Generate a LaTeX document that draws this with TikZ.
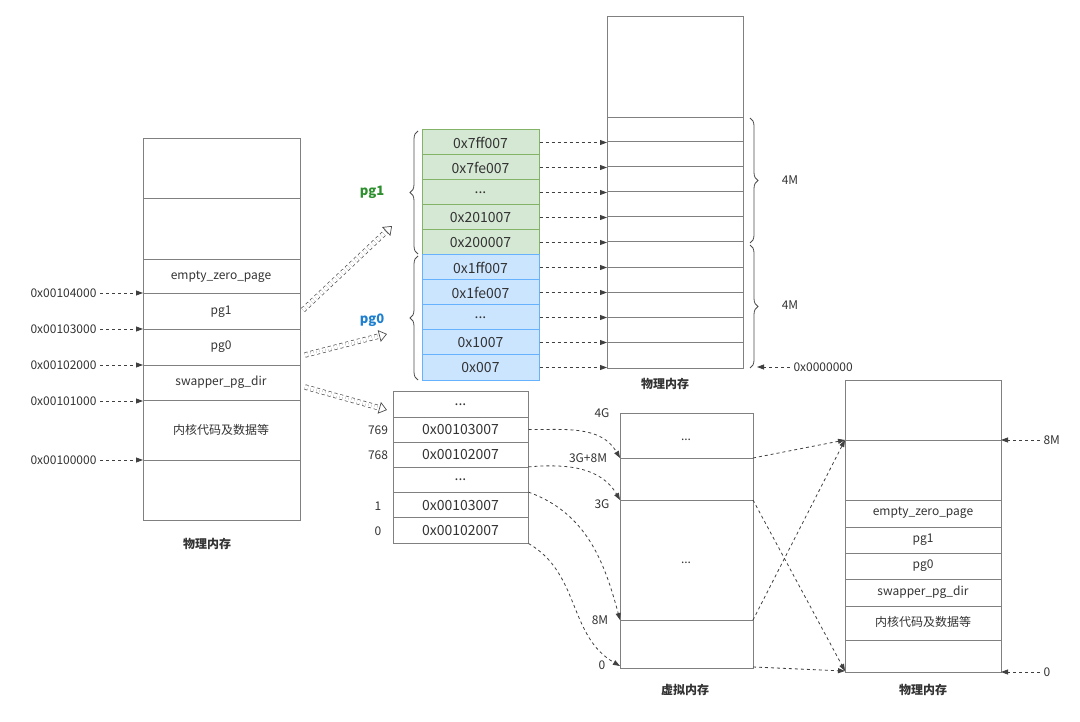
\documentclass[tikz,border=0pt]{standalone}
\usepackage{fontspec}
\setmainfont{Noto Sans CJK SC}
\usetikzlibrary{arrows.meta,decorations.pathreplacing}
\newcommand\mydots{...}
\definecolor{lc}{HTML}{808080}
\definecolor{gfill}{HTML}{D5E8D4}\definecolor{gline}{HTML}{82B366}
\definecolor{bfill}{HTML}{CCE5FF}\definecolor{bline}{HTML}{66B2FF}
\definecolor{tg}{HTML}{2D8F2D}\definecolor{tb}{HTML}{1F7FCF}
\begin{document}
\begin{tikzpicture}[x=1pt,y=-1pt,
  box/.style={draw=lc,line width=1pt},
  lab/.style={font=\fontsize{12}{12}\selectfont,text=black!80},
  cell/.style={font=\fontsize{14}{14}\selectfont,text=black!80},
  bl/.style={font=\fontsize{12}{12}\selectfont\bfseries,text=black!80},
  da/.style={draw=black!75,dashed,line width=0.8pt,-{Triangle[length=7pt,width=5pt]}},
  ha/.style={draw=black!70,dashed,line width=0.7pt,double,double distance=4pt,-{Triangle[open,length=8pt,width=12pt]}},
  br/.style={decorate,decoration={brace,amplitude=8pt},draw=black!70,line width=0.8pt}]
\useasboundingbox (0,0) rectangle (1080,722);
% left memory
\draw[box] (143,139) rectangle (300,520);
\foreach \y in {199,260,294,330,365,400,460} \draw[box] (143,\y)--(300,\y);
\node[lab] (l1) at (221,277) {empty\_zero\_page};
\node[lab] (l2) at (221,312) {pg1};
\node[lab] (l3) at (221,347) {pg0};
\node[lab] (l4) at (221,382) {swapper\_pg\_dir};
\node[lab] (l5) at (221,430) {内核代码及数据等};
\node[bl] (m1) at (207,544) {物理内存};
\foreach \y/\t [count=\i] in {293/0x00104000,329/0x00103000,365/0x00102000,401/0x00101000,460/0x00100000}{
  \node[lab,anchor=east] (a\i) at (100,\y) {\t};
  \coordinate (b\i) at (143,\y);
  \draw[da] (a\i.east)--(b\i);}
% page tables
\foreach \t [count=\i] in {0x7ff007,0x7fe007,\mydots,0x201007,0x200007}{
  \node[cell,draw=gline,fill=gfill,line width=1pt,minimum width=117pt,minimum height=25pt,inner sep=0] (g\i) at (480.5,117.5+25*\i) {\t};
  \coordinate (gt\i) at (607,117.5+25*\i);
  \draw[da] (g\i.east)--(gt\i);}
\foreach \t [count=\i] in {0x1ff007,0x1fe007,\mydots,0x1007,0x007}{
  \node[cell,draw=bline,fill=bfill,line width=1pt,minimum width=117pt,minimum height=25pt,inner sep=0] (c\i) at (480.5,242.5+25*\i) {\t};
  \coordinate (ct\i) at (607,242.5+25*\i);
  \draw[da] (c\i.east)--(ct\i);}
\draw[br] (418,254)--(418,131);
\draw[br] (418,380)--(418,256);
\node[font=\fontsize{13}{13}\selectfont\bfseries,text=tg] (pg1) at (372,192) {pg1};
\node[font=\fontsize{13}{13}\selectfont\bfseries,text=tb] (pg0) at (372,320) {pg0};
% top phys mem
\draw[box] (607,17) rectangle (743,368);
\foreach \y in {118,142,167,192,217,242,268,293,318,343} \draw[box] (607,\y)--(743,\y);
\draw[br] (750,118)--(750,243);
\draw[br] (750,245)--(750,368);
\node[lab] (f1) at (790,180) {4M};
\node[lab] (f2) at (790,305) {4M};
\node[lab,anchor=west] (z0) at (790,367) {0x0000000};
\coordinate (z1) at (757,367);
\draw[da] (z0.west)--(z1);
\node[bl] (m2) at (665,384) {物理内存};
% hollow arrows
\coordinate (h1s) at (303,310); \coordinate (h1e) at (392,226);
\coordinate (h2s) at (305,355); \coordinate (h2e) at (387,334);
\coordinate (h3s) at (305,387); \coordinate (h3e) at (387,410);
\draw[ha] (h1s)--(h1e); \draw[ha] (h2s)--(h2e); \draw[ha] (h3s)--(h3e);
% page dir
\foreach \t [count=\i] in {\mydots,0x00103007,0x00102007,\mydots,0x00103007,0x00102007}{
  \node[cell,draw=lc,line width=1pt,minimum width=135pt,minimum height=25.2pt,inner sep=0] (d\i) at (460.5,404.4+25.2*\i-25.2) {\t};}
\node[lab] (n1) at (378,430) {769};
\node[lab] (n2) at (378,455) {768};
\node[lab] (n3) at (378,506) {1};
\node[lab] (n4) at (378,531) {0};
% virtual memory
\draw[box] (620,413) rectangle (753,668);
\foreach \y in {458,500,620} \draw[box] (620,\y)--(753,\y);
\node[lab] at (686,440) {...};
\node[lab] at (686,563) {...};
\node[lab] at (602,413) {4G};
\node[lab] at (588,458) {3G+8M};
\node[lab] at (602,504) {3G};
\node[lab] at (600,620) {8M};
\node[lab] at (602,665) {0};
\node[bl] (m3) at (685,690) {虚拟内存};
\coordinate (v1) at (620,458); \coordinate (v2) at (620,500);
\coordinate (v3) at (620,620); \coordinate (v4) at (620,666);
\coordinate (v1r) at (753,458); \coordinate (v2r) at (753,500);
\coordinate (v3r) at (753,620); \coordinate (v4r) at (753,667);
\draw[da] (d2.east) to[out=0,in=120] (v1);
\draw[da] (d4.north east) to[out=5,in=120] (v2);
\draw[da] (d5.north east) to[out=-20,in=105] (v3);
\draw[da] (d6.south east) to[out=-30,in=150] (v4);
% right phys mem
\draw[box] (845,380) rectangle (1001,672);
\foreach \y in {440,500,527,553,579,606,640} \draw[box] (845,\y)--(1001,\y);
\node[lab] at (923,513) {empty\_zero\_page};
\node[lab] at (923,540) {pg1};
\node[lab] at (923,566) {pg0};
\node[lab] at (923,592) {swapper\_pg\_dir};
\node[lab] at (923,622) {内核代码及数据等};
\node[bl] (m4) at (923,690) {物理内存};
\coordinate (p8) at (845,440); \coordinate (p0) at (845,671);
\draw[da] (v1r)--(p8); \draw[da] (v3r)--(p8);
\draw[da] (v2r)--(p0); \draw[da] (v4r)--(p0);
\node[lab,anchor=west] (r8) at (1040,440) {8M};
\node[lab,anchor=west] (r0) at (1040,672) {0};
\coordinate (r8e) at (1001,440); \coordinate (r0e) at (1001,672);
\draw[da] (r8.west)--(r8e); \draw[da] (r0.west)--(r0e);
\end{tikzpicture}
\end{document}
